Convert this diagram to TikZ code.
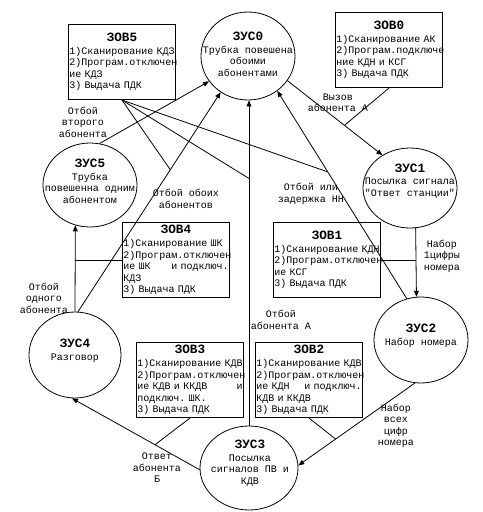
\documentclass[tikz,border=0pt]{standalone}
\usepackage{fontspec}
\setmainfont{Liberation Serif}
\newfontfamily\monofnt{Liberation Mono}
\usetikzlibrary{shapes.geometric,arrows.meta}
\newcommand\ttlfnt{\bfseries\fontsize{9.5}{10}\selectfont}
\newcommand\txtfnt{\monofnt\fontsize{7.5}{8.6}\selectfont}
\tikzset{
  zus/.style={draw,ellipse,inner sep=0pt},
  zustxt/.style={align=center,inner sep=0pt,font=\txtfnt},
  zov/.style={draw,rectangle,text width=79pt,inner xsep=0.6pt,inner ysep=0pt,
    minimum height=56.5pt,align=left,font=\txtfnt},
  lbl/.style={align=center,inner sep=0pt,font=\txtfnt},
  arr/.style={-{Triangle[length=4.5pt,width=3.6pt]}}
}

\begin{document}
\begin{tikzpicture}[x=0.75pt,y=-0.75pt,line width=0.6pt]
\useasboundingbox (0,0) rectangle (483,512);
% states
\node[zus,minimum width=70.5pt,minimum height=66pt] (zus0) at (248,56) {};
\node[zus,minimum width=70.5pt,minimum height=60pt] (zus1) at (410,188) {};
\node[zus,minimum width=70.5pt,minimum height=64.5pt] (zus2) at (421,340) {};
\node[zus,minimum width=73.5pt,minimum height=63pt] (zus3) at (249,468) {};
\node[zus,minimum width=69pt,minimum height=64.5pt] (zus4) at (75,355) {};
\node[zus,minimum width=70.5pt,minimum height=63pt] (zus5) at (90,185) {};
\node[zustxt] (zus0t) at (248,54) {{\ttlfnt ЗУС0}\\[1pt]Трубка повешена\\обоими\\абонентами};
\node[zustxt] (zus1t) at (410,181) {{\ttlfnt ЗУС1}\\[1pt]Посылка сигнала\\"Ответ станции"};
\node[zustxt] (zus2t) at (421,336) {{\ttlfnt ЗУС2}\\[1pt]Набор номера};
\node[zustxt] (zus3t) at (250,463) {{\ttlfnt ЗУС3}\\[1pt]Посылка\\сигналов ПВ и\\КДВ};
\node[zustxt] (zus4t) at (75,351) {{\ttlfnt ЗУС4}\\[1pt]Разговор};
\node[zustxt] (zus5t) at (90,181) {{\ttlfnt ЗУС5}\\[1pt]Трубка\\повешенна одним\\абонентом};
% waiting boxes
\node[zov] (zov5) at (122,62) {\makebox[\linewidth]{\ttlfnt ЗОВ5}\\[1pt]
  1)Сканирование~КДЗ\\2)Програм.отключен\\ие~КДЗ\\3)~Выдача~ПДК};
\node[zov] (zov0) at (389,50) {\makebox[\linewidth]{\ttlfnt ЗОВ0}\\[1pt]
  1)Сканирование~АК\\2)Програм.подключе\\ние~КДН~и~КСГ\\3)~Выдача~ПДК};
\node[zov] (zov4) at (176,260) {\makebox[\linewidth]{\ttlfnt ЗОВ4}\\[1pt]
  1)Сканирование~ШК\\2)Програм.отключен\\ие~ШК\nobreak\hfill и~подключ.\\КДЗ\\3)~Выдача~ПДК};
\node[zov] (zov1) at (327,260) {\makebox[\linewidth]{\ttlfnt ЗОВ1}\\[1pt]
  1)Сканирование~КДН\\2)Програм.отключен\\ие~КСГ\\3)~Выдача~ПДК};
\node[zov] (zov3) at (190,380) {\makebox[\linewidth]{\ttlfnt ЗОВ3}\\[1pt]
  1)Сканирование~КДВ\\2)Програм.отключен\\ие~КДВ~и~ККДВ\nobreak\hfill и\\подключ.~ШК.\\3)~Выдача~ПДК};
\node[zov] (zov2) at (309,380) {\makebox[\linewidth]{\ttlfnt ЗОВ2}\\[1pt]
  1)Сканирование~КДВ\\2)Програм.отключен\\ие~КДН\nobreak\hfill и~подключ.\\КДВ~и~ККДВ\\3)~Выдача~ПДК};
% transitions
\draw[arr] (zus0.-32) -- coordinate[pos=0.6] (c01) (zus1.130);
\draw (zov0.south) -- (c01);
\draw[arr] (zus1.-82) -- (zus2.96);
\draw (zov1.east) -- (zov1.east -| zus2.96);
\draw[arr] (zus2.262) -- coordinate[pos=0.68] (c23) (zus3.3);
\draw (zov2.south) -- (c23);
\draw[arr] (zus3.182) -- coordinate[pos=0.35] (c34) (zus4.266);
\draw (zov3.south) -- (c34);
\draw[arr] (zus4.north) -- (zus5.250);
\draw (zov4.west) -- (zov4.west -| zus4.north);
\draw[arr] (zus5.77) -- (zus0.213);
\draw[arr] (zus4.86) -- coordinate[pos=0.647] (c40) (zus0.233);
\draw[arr] (zus3.north) -- coordinate[pos=0.76] (c30) (zus3.north |- zus0.south);
\draw[arr] (zus2.109) -- coordinate[pos=0.61] (c20) (zus0.310);
\draw (zov5.south) -- (c40);
\draw (zov5.south) -- (c30);
\draw (zov5.south) -- (c20);
% labels
\node[lbl] (l01) at (338,103) {Вызов\\абонента А};
\node[lbl] (l12) at (442,256) {Набор\\1цифры\\номера};
\node[lbl] (l23) at (396,426) {Набор\\всех\\цифр\\номера};
\node[lbl] (l34) at (157,468) {Ответ\\абонента\\Б};
\node[lbl] (l45) at (44,298) {Отбой\\одного\\абонента};
\node[lbl] (l50) at (83,122) {Отбой\\второго\\абонента};
\node[lbl] (l40) at (186,199) {Отбой обоих\\абонентов};
\node[lbl] (l30) at (281,320) {Отбой\\абонента А};
\node[lbl] (l20) at (311,194) {Отбой или\\задержка НН};
\end{tikzpicture}
\end{document}
